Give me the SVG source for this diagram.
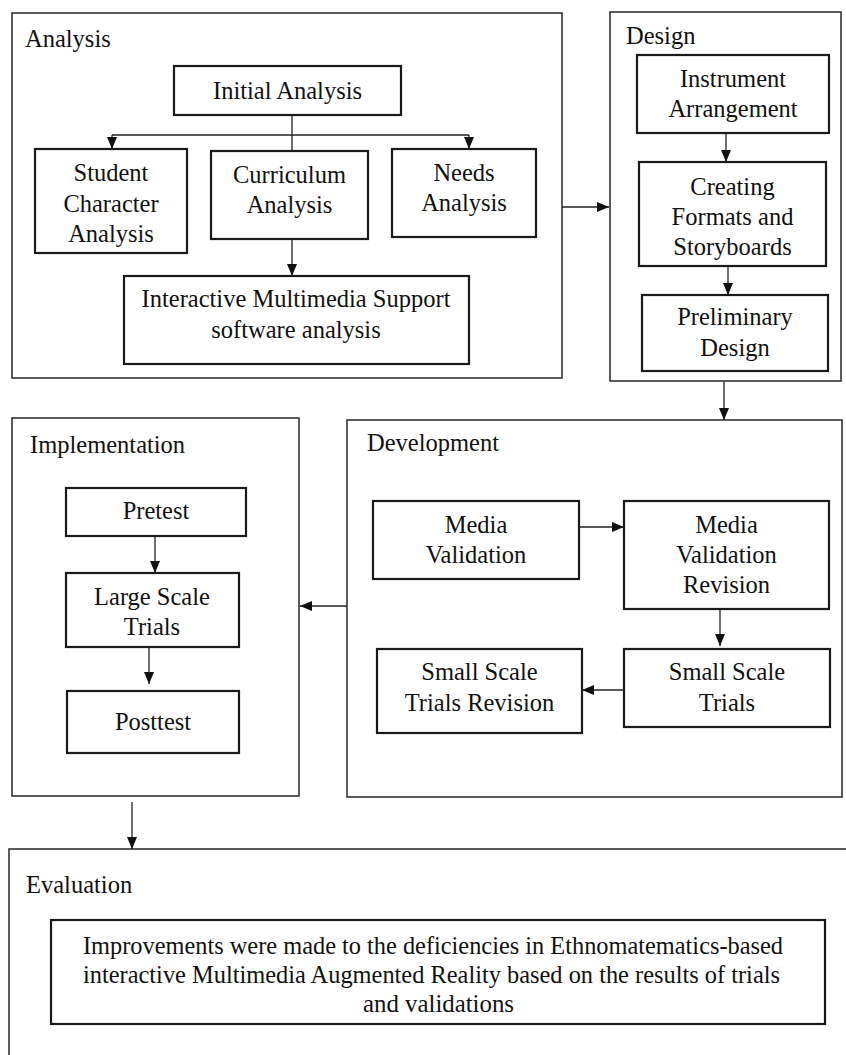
<svg xmlns="http://www.w3.org/2000/svg" width="846" height="1055" viewBox="0 0 846 1055">
<defs>
<marker id="ah" viewBox="0 0 12 10" refX="12" refY="5" markerWidth="12" markerHeight="10" markerUnits="userSpaceOnUse" orient="auto">
<path d="M0,0 L12,5 L0,10 Z" fill="#111"/>
</marker>
<style>
.outer{fill:none;stroke:#333;stroke-width:1.6}
.box{fill:#fff;stroke:#1a1a1a;stroke-width:2.2}
.t{font-family:"Liberation Serif","Times New Roman",serif;font-size:24.5px;fill:#111;text-anchor:middle}
.lbl{font-family:"Liberation Serif","Times New Roman",serif;font-size:24.5px;fill:#111;text-anchor:start}
.ev{font-family:"Liberation Serif","Times New Roman",serif;font-size:24.5px;fill:#111;text-anchor:start}
.c{fill:none;stroke:#222;stroke-width:1.3}
.ca{fill:none;stroke:#222;stroke-width:1.3;marker-end:url(#ah)}
</style>
</defs>
<rect width="846" height="1055" fill="#fff"/>

<g id="analysis">
<rect class="outer" x="12" y="13" width="550" height="365"/>
<text class="lbl" x="25" y="47">Analysis</text>
</g>
<g id="design">
<rect class="outer" x="610" y="12" width="231" height="369"/>
<text class="lbl" x="626" y="44">Design</text>
</g>
<g id="implementation">
<rect class="outer" x="12" y="418" width="287" height="378"/>
<text class="lbl" x="30" y="453">Implementation</text>
</g>
<g id="development">
<rect class="outer" x="347" y="420" width="495" height="377"/>
<text class="lbl" x="367" y="451">Development</text>
</g>
<g id="evaluation">
<rect class="outer" x="9" y="849" width="850" height="220"/>
<text class="lbl" x="26" y="893">Evaluation</text>
</g>

<g id="connectors">
<line class="c" x1="292" y1="115" x2="292" y2="151"/>
<line class="c" x1="112" y1="135" x2="469" y2="135"/>
<line class="ca" x1="112" y1="135" x2="112" y2="149"/>
<line class="ca" x1="469" y1="135" x2="469" y2="149"/>
<line class="ca" x1="292" y1="239" x2="292" y2="276"/>
<line class="ca" x1="562" y1="207" x2="609" y2="207"/>
<line class="ca" x1="726" y1="133" x2="726" y2="162"/>
<line class="ca" x1="728" y1="266" x2="728" y2="295"/>
<line class="ca" x1="724" y1="381" x2="724" y2="420"/>
<line class="ca" x1="579" y1="527" x2="624" y2="527"/>
<line class="ca" x1="720" y1="609" x2="720" y2="646"/>
<line class="ca" x1="624" y1="690" x2="582" y2="690"/>
<line class="ca" x1="347" y1="606" x2="300" y2="606"/>
<line class="ca" x1="155" y1="536" x2="155" y2="573"/>
<line class="ca" x1="149" y1="647" x2="149" y2="684"/>
<line class="ca" x1="132" y1="802" x2="132" y2="849"/>
</g>

<g id="initial-analysis">
<rect class="box" x="174" y="66" width="227" height="49"/>
<text class="t" x="287.5" y="99">Initial Analysis</text>
</g>
<g id="student-character-analysis">
<rect class="box" x="35" y="149" width="152" height="104"/>
<text class="t" x="111" y="181">Student</text>
<text class="t" x="111" y="212">Character</text>
<text class="t" x="111" y="242">Analysis</text>
</g>
<g id="curriculum-analysis">
<rect class="box" x="211" y="151" width="157" height="88"/>
<text class="t" x="289.5" y="183">Curriculum</text>
<text class="t" x="289.5" y="213">Analysis</text>
</g>
<g id="needs-analysis">
<rect class="box" x="392" y="149" width="144" height="88"/>
<text class="t" x="464" y="181">Needs</text>
<text class="t" x="464" y="211">Analysis</text>
</g>
<g id="interactive-multimedia">
<rect class="box" x="124" y="276" width="345" height="88"/>
<text class="t" x="296" y="307">Interactive Multimedia Support</text>
<text class="t" x="296" y="338">software analysis</text>
</g>

<g id="instrument-arrangement">
<rect class="box" x="637" y="55" width="192" height="78"/>
<text class="t" x="733" y="87">Instrument</text>
<text class="t" x="733" y="117">Arrangement</text>
</g>
<g id="creating-formats">
<rect class="box" x="639" y="162" width="187" height="104"/>
<text class="t" x="732.5" y="195">Creating</text>
<text class="t" x="732.5" y="225">Formats and</text>
<text class="t" x="732.5" y="255">Storyboards</text>
</g>
<g id="preliminary-design">
<rect class="box" x="642" y="295" width="186" height="76"/>
<text class="t" x="735" y="325">Preliminary</text>
<text class="t" x="735" y="356">Design</text>
</g>

<g id="pretest">
<rect class="box" x="66" y="488" width="180" height="48"/>
<text class="t" x="156" y="519">Pretest</text>
</g>
<g id="large-scale-trials">
<rect class="box" x="66" y="573" width="173" height="74"/>
<text class="t" x="152" y="605">Large Scale</text>
<text class="t" x="152" y="635">Trials</text>
</g>
<g id="posttest">
<rect class="box" x="67" y="691" width="172" height="62"/>
<text class="t" x="153" y="730">Posttest</text>
</g>

<g id="media-validation">
<rect class="box" x="373" y="501" width="206" height="78"/>
<text class="t" x="476" y="533">Media</text>
<text class="t" x="476" y="563">Validation</text>
</g>
<g id="media-validation-revision">
<rect class="box" x="624" y="501" width="205" height="108"/>
<text class="t" x="726.5" y="533">Media</text>
<text class="t" x="726.5" y="563">Validation</text>
<text class="t" x="726.5" y="593">Revision</text>
</g>
<g id="small-scale-trials">
<rect class="box" x="624" y="649" width="206" height="78"/>
<text class="t" x="727" y="680">Small Scale</text>
<text class="t" x="727" y="711">Trials</text>
</g>
<g id="small-scale-trials-revision">
<rect class="box" x="377" y="649" width="205" height="84"/>
<text class="t" x="479.5" y="680">Small Scale</text>
<text class="t" x="479.5" y="711">Trials Revision</text>
</g>

<g id="improvements">
<rect class="box" x="51" y="920" width="774" height="104"/>
<text class="ev" x="83" y="954" textLength="700" lengthAdjust="spacingAndGlyphs">Improvements were made to the deficiencies in Ethnomatematics-based</text>
<text class="ev" x="83" y="983" textLength="697" lengthAdjust="spacingAndGlyphs">interactive Multimedia Augmented Reality based on the results of trials</text>
<text class="ev" x="363" y="1012" textLength="151" lengthAdjust="spacingAndGlyphs">and validations</text>
</g>
</svg>
